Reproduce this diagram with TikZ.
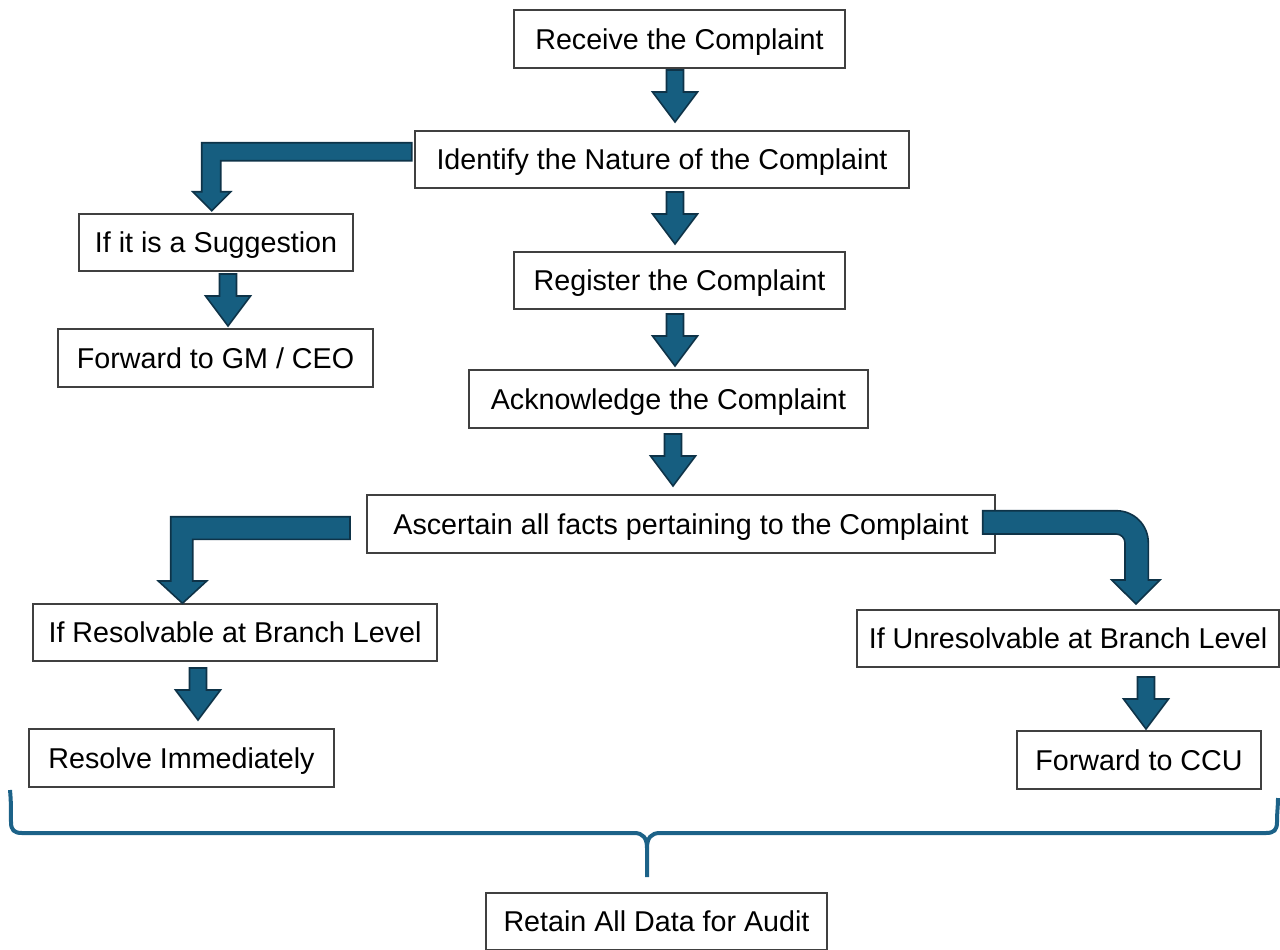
\documentclass[tikz,border=0pt]{standalone}
\usepackage{fontspec}
\setmainfont{Liberation Sans}
\definecolor{boxline}{HTML}{404040}
\definecolor{arrfill}{HTML}{165E80}
\definecolor{arrline}{HTML}{0E3348}
\definecolor{bracecol}{HTML}{1C6288}
\newcommand\bx[6]{\node[box, minimum width={(#4-#2)*0.75pt}, minimum height={(#5-#3)*0.75pt}] (#1) at ({(#2+#4)/2},{(#3+#5)/2}) {#6};}
\newcommand\dnarrow[3]{\filldraw[blockarrow] (#1-8.5,#2) -- (#1+8.5,#2) -- (#1+8.5,#3-30) -- (#1+22.5,#3-30) -- (#1,#3) -- (#1-22.5,#3-30) -- (#1-8.5,#3-30) -- cycle;}
\begin{document}
\begin{tikzpicture}[x=0.75pt,y=-0.75pt,
  box/.style={draw=boxline, line width=1pt, fill=white, inner sep=0pt, font=\fontsize{21.5}{25}\selectfont, text height=20.4pt, text depth=5pt},
  blockarrow/.style={fill=arrfill, draw=arrline, line width=1.2pt, line join=miter},
  bracestyle/.style={draw=bracecol, line width=3pt, line cap=butt}]
\useasboundingbox (0,0) rectangle (1280,949);
% boxes
\bx{receive}{514}{10}{845}{68}{Receive the Complaint}
\bx{identify}{415}{131}{909}{188}{Identify the Nature of the Complaint}
\bx{suggest}{79}{214}{353}{271}{If it is a Suggestion}
\bx{gm}{58}{329}{373}{387}{Forward to GM / CEO}
\bx{register}{514}{252}{845}{309}{Register the Complaint}
\bx{ack}{469}{370}{868}{428}{Acknowledge the Complaint}
\bx{facts}{367}{495}{995}{553}{Ascertain all facts pertaining to the Complaint}
\bx{resolv}{33}{604}{437}{661}{If Resolvable at Branch Level}
\bx{immed}{29}{729}{334}{787}{Resolve Immediately}
\bx{unres}{857}{610}{1279}{667}{If Unresolvable at Branch Level}
\bx{ccu}{1017}{731}{1261}{789}{Forward to CCU}
\bx{retain}{486}{893}{827}{950}{Retain All Data for Audit}
% straight block arrows
\dnarrow{675}{70}{122}
\dnarrow{675}{192}{244}
\dnarrow{675}{314}{366}
\dnarrow{673}{434}{486}
\dnarrow{228}{274}{326}
\dnarrow{198}{668}{720}
\dnarrow{1146}{677}{729}
% bent arrows
\filldraw[blockarrow] (411.7,142.7) -- (201.7,142.7) -- (201.7,191.7) -- (192.7,191.7) -- (211.7,210.7) -- (230.7,191.7) -- (220.7,191.7) -- (220.7,160.7) -- (411.7,160.7) -- cycle;
\filldraw[blockarrow] (350,516.7) -- (170.7,516.7) -- (170.7,581) -- (158.3,581) -- (182.5,603.3) -- (206.7,581) -- (192.7,581) -- (192.7,539.3) -- (350,539.3) -- cycle;
\filldraw[blockarrow] (982.7,510.7) -- (1116.3,510.7) .. controls (1134,510.7) and (1148.3,525) .. (1148.3,542.7) -- (1148.3,580) -- (1160,580) -- (1136,604) -- (1111.7,580) -- (1125,580) -- (1125,543) .. controls (1125,538) and (1121,534) .. (1116,534) -- (982.7,534) -- cycle;
% brace
\draw[bracestyle] (10,790) .. controls (11,800) and (11,810) .. (11,822) .. controls (11,830) and (14,833) .. (22,833) -- (634,833) .. controls (643,833) and (647,838) .. (647,848) -- (647,877);
\draw[bracestyle] (647,848) .. controls (647,838) and (651,833) .. (660,833) -- (1266,833) .. controls (1274,833) and (1277,830) .. (1277,822) .. controls (1277,812) and (1278,806) .. (1278,798);
\end{tikzpicture}
\end{document}
